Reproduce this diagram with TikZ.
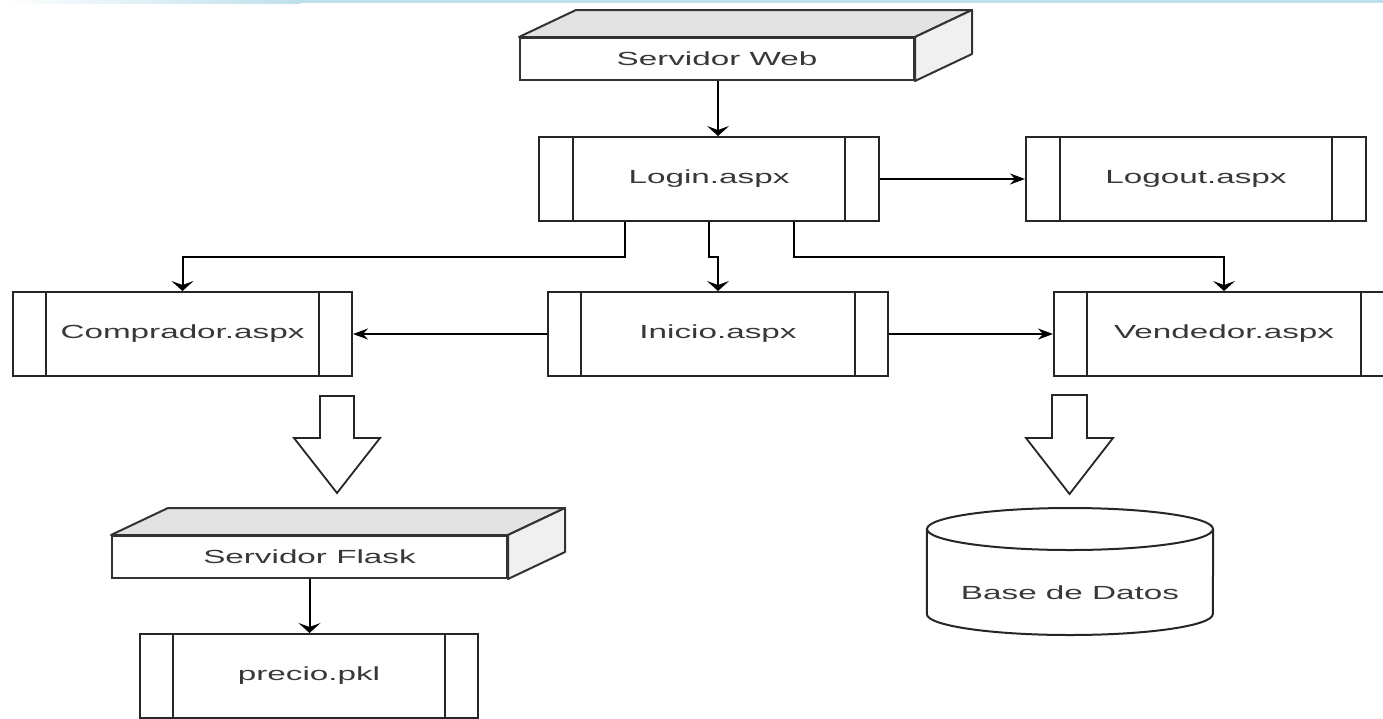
\documentclass[tikz,border=0pt]{standalone}
\usepackage{fontspec}
\setmainfont{Liberation Sans}
\usetikzlibrary{arrows.meta}
\definecolor{topline}{RGB}{190,224,236}
\newcommand{\sx}[1]{\scalebox{1.75}[1]{#1}}
\tikzset{
  lbl/.style={font=\fontsize{19}{19}\selectfont, text=black!78},
  proc/.style={draw=black!85, line width=2pt, fill=white, minimum height=84pt, inner sep=0pt, lbl},
  front/.style={draw=black!80, line width=2pt, fill=white, minimum height=42pt, inner sep=0pt, lbl},
  conn/.style={draw=black, line width=2pt},
  dtip/.style={conn, -{Stealth[length=10pt, width=22pt, inset=4pt]}},
  stip/.style={conn, -{Stealth[length=15pt, width=11pt, inset=5pt]}},
  blk/.style={draw=black!85, line width=1.8pt, fill=white, line join=miter},
}
\newcommand{\bars}[2]{%
  \draw[black!85, line width=2pt] ([xshift=#2]#1.north west) -- ([xshift=#2]#1.south west);
  \draw[black!85, line width=2pt] ([xshift=-#2]#1.north east) -- ([xshift=-#2]#1.south east);}
\newcommand{\cube}[1]{%
  \draw[draw=black!80, line width=2pt, fill=black!11, line join=round] (#1.north west) -- ([shift={(57,-27)}]#1.north west) -- ([shift={(57,-27)}]#1.north east) -- (#1.north east) -- cycle;
  \draw[draw=black!80, line width=2pt, fill=black!6, line join=round] (#1.north east) -- ([shift={(57,-27)}]#1.north east) -- ([shift={(57,-27)}]#1.south east) -- (#1.south east) -- cycle;}
\begin{document}
\begin{tikzpicture}[x=1pt, y=-1pt]
\clip (0,0) rectangle (1383,718);
\fill[white] (0,0) rectangle (1383,718);
\shade[left color=white, right color=topline] (0,0) rectangle (300,3);
\fill[topline] (300,0) rectangle (1383,3);

% process boxes
\node[proc, minimum width=340pt] (login) at (709,179) {\sx{Login.aspx}};
\bars{login}{35pt}
\node[proc, minimum width=340pt] (logout) at (1196,179) {\sx{Logout.aspx}};
\bars{logout}{35pt}
\node[proc, minimum width=339pt] (comp) at (182.5,334) {\sx{Comprador.aspx}};
\bars{comp}{34pt}
\node[proc, minimum width=340pt] (inicio) at (718,334) {\sx{Inicio.aspx}};
\bars{inicio}{34pt}
\node[proc, minimum width=340pt] (vend) at (1224,334) {\sx{Vendedor.aspx}};
\bars{vend}{34pt}
\node[proc, minimum width=338pt] (precio) at (309,676) {\sx{precio.pkl}};
\bars{precio}{34pt}

% 3D boxes
\node[front, minimum width=394pt] (sweb) at (717,59) {\sx{Servidor Web}};
\cube{sweb}
\node[front, minimum width=395pt] (flask) at (309.5,557) {\sx{Servidor Flask}};
\cube{flask}

% database cylinder
\node[inner sep=0pt, minimum width=286pt, minimum height=127pt] (db) at (1070,571.5) {};
\draw[black!85, line width=2pt, fill=white] (db.north west |- 0,529) -- (db.north west |- 0,614) arc[start angle=180, end angle=0, x radius=143, y radius=21] -- (db.north east |- 0,529);
\draw[black!85, line width=2pt, fill=white] (1070,529) ellipse[x radius=143, y radius=21];
\node[lbl] (dbl) at (1070,593) {\sx{Base de Datos}};

% block arrows
\draw[blk] (320,396) -- (354,396) -- (354,438) -- (380,438) -- (337,493) -- (294,438) -- (320,438) -- cycle;
\draw[blk] (1052,395) -- (1087,395) -- (1087,438) -- (1113,438) -- (1069.5,494) -- (1026,438) -- (1052,438) -- cycle;

% connectors
\draw[dtip] ([xshift=1pt]sweb.south) -- ([xshift=1pt]sweb.south |- login.north);
\draw[stip] (login.east) -- (logout.west);
\draw[dtip] ([xshift=-84pt]login.south) -- ++(0,35) -| (comp.north);
\draw[dtip] (login.south) -- ++(0,35) -| (inicio.north);
\draw[dtip] ([xshift=85pt]login.south) -- ++(0,35) -| (vend.north);
\draw[stip] (inicio.west) -- (comp.east);
\draw[stip] (inicio.east) -- (vend.west);
\draw[dtip] (flask.south) -- (flask.south |- precio.north);
\end{tikzpicture}
\end{document}
